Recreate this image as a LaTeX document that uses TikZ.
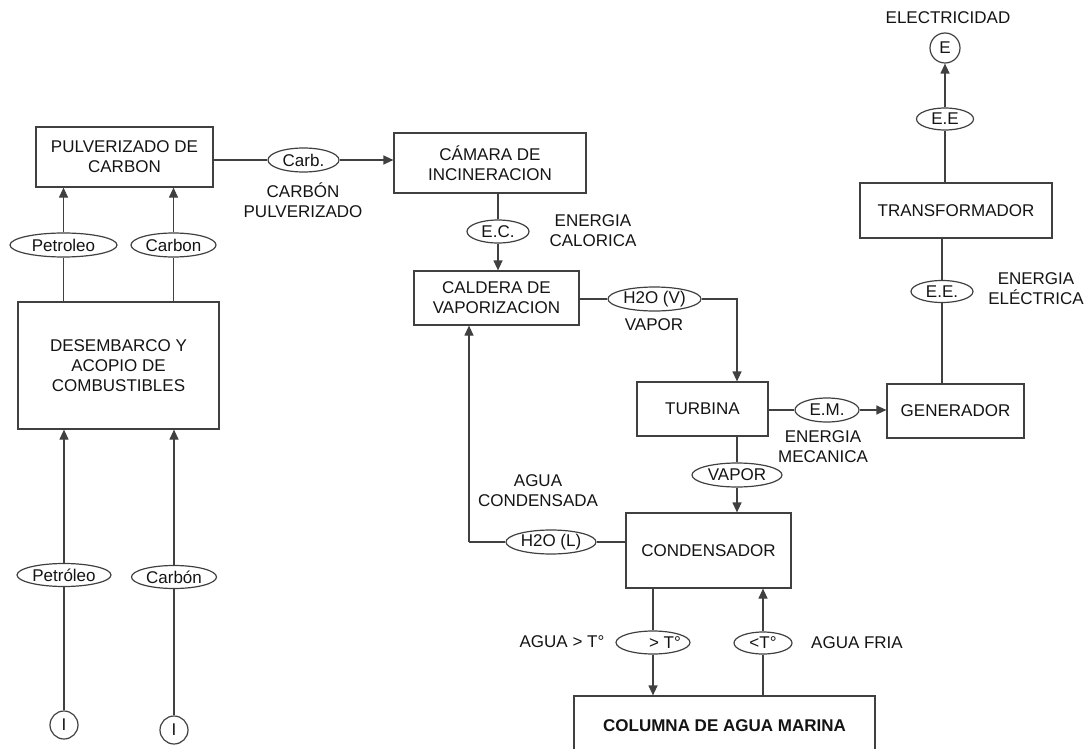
\documentclass[tikz,border=0pt]{standalone}
\usepackage{fontspec}
\setmainfont{Liberation Sans}
\usepackage{tikz}
\usetikzlibrary{arrows.meta,shapes,positioning,calc}
\usepackage{xcolor}
\definecolor{lineagris}{RGB}{64,64,64}
\definecolor{textonegro}{RGB}{20,20,20}
\newcommand{\letra}{\fontsize{17}{20}\selectfont}
\tikzstyle{arrow} = [line width=1.2pt,-{Triangle[length=10pt,width=9pt]},color=lineagris]
\tikzstyle{linea} = [line width=1.2pt,color=lineagris]
\tikzstyle{proceso} = [rectangle, draw=lineagris, line width=1.2pt, inner sep=0pt, text centered, align=center, text=textonegro, font=\letra]
\tikzstyle{flujo} = [ellipse, draw=lineagris, line width=1.2pt, inner sep=0pt, minimum height=24pt, text=textonegro, font=\letra]
\tikzstyle{terminal} = [circle, draw=lineagris, line width=1.2pt, inner sep=0pt, minimum size=28pt, text=textonegro, font=\letra]
\tikzstyle{etiqueta} = [align=center, inner sep=0pt, text=textonegro, font=\letra]

\begin{document}
\begin{tikzpicture}[x=1pt, y=-1pt]
    \useasboundingbox (0,0) rectangle (1092,749);
    \clip (0,0) rectangle (1092,749);

    % Procesos
    \node[proceso, minimum width=177pt, minimum height=60pt] (pulv) at (124.5,157) {PULVERIZADO DE\\CARBON};
    \node[proceso, minimum width=201pt, minimum height=127pt] (desemb) at (118.5,365.5) {DESEMBARCO Y\\ACOPIO DE\\COMBUSTIBLES};
    \node[proceso, minimum width=192pt, minimum height=60pt] (camara) at (490,163) {CÁMARA DE\\INCINERACION};
    \node[proceso, minimum width=165pt, minimum height=54pt] (caldera) at (496.5,298) {CALDERA DE\\VAPORIZACION};
    \node[proceso, minimum width=131pt, minimum height=54pt] (turbina) at (702.5,409) {TURBINA};
    \node[proceso, minimum width=165pt, minimum height=75pt] (condens) at (708.5,550.5) {CONDENSADOR};
    \node[proceso, minimum width=301pt, minimum height=60pt, font=\letra\bfseries] (columna) at (724.5,726) {COLUMNA DE AGUA MARINA};
    \node[proceso, minimum width=137pt, minimum height=54pt] (generador) at (955.5,411) {GENERADOR};
    \node[proceso, minimum width=192pt, minimum height=55pt] (transf) at (956,210.5) {TRANSFORMADOR};

    % Flujos
    \node[flujo, minimum width=71pt] (carb) at (303.5,160) {Carb.};
    \node[flujo, minimum width=107pt] (petroleo1) at (63.5,245) {Petroleo};
    \node[flujo, minimum width=85pt] (carbon1) at (173.5,245) {Carbon};
    \node[flujo, minimum width=94pt, minimum height=23pt] (petroleo2) at (64,575) {Petróleo};
    \node[flujo, minimum width=85pt, minimum height=23pt] (carbon2) at (174,577) {Carbón};
    \node[flujo, minimum width=62pt, minimum height=23pt] (ec) at (498,231.5) {E.C.};
    \node[flujo, minimum width=93pt] (h2ov) at (654.5,299) {H2O (V)};
    \node[flujo, minimum width=90pt] (vapor) at (737,475) {VAPOR};
    \node[flujo, minimum width=90pt] (h2ol) at (551,542) {H2O (L)};
    \node[flujo, minimum width=74pt, minimum height=23pt] (tmayor) at (653,642.5) {\makebox[0pt][l]{\hspace*{-4pt}> T°}};
    \node[flujo, minimum width=58pt, minimum height=22pt] (tmenor) at (763,643) {<T°};
    \node[flujo, minimum width=64pt] (em) at (827,410) {E.M.};
    \node[flujo, minimum width=62pt, minimum height=22pt] (ee1) at (942,291.5) {E.E.};
    \node[flujo, minimum width=57pt, minimum height=22pt] (ee2) at (945,119) {E.E};

    % Terminales
    \node[terminal] (ent1) at (64,725) {I};
    \node[terminal] (ent2) at (174,730) {I};
    \node[terminal, minimum size=30pt] (elec) at (945,48) {E};
    \coordinate (retorno) at (469,542);

    % Etiquetas
    \node[etiqueta] (lcarb) at (303,200) {CARBÓN\\PULVERIZADO};
    \node[etiqueta] (lec) at (593,231) {ENERGIA\\CALORICA};
    \node[etiqueta] (lvapor) at (654,325) {VAPOR};
    \node[etiqueta] (lagua) at (538,491) {AGUA\\CONDENSADA};
    \node[etiqueta] (lem) at (823,447) {ENERGIA\\MECANICA};
    \node[etiqueta] (lee) at (1036,289) {ENERGIA\\ELÉCTRICA};
    \node[etiqueta] (lelec) at (948,18) {ELECTRICIDAD};
    \node[etiqueta] (lmayor) at (562,642) {AGUA > T°};
    \node[etiqueta] (lfria) at (857,643) {AGUA FRIA};

    % Conectores
    \draw[linea] (pulv.east |- carb) -- (carb);
    \draw[arrow] (carb) -- (carb -| camara.west);
    \draw[linea] (petroleo1 |- desemb.north) -- (petroleo1);
    \draw[arrow] (petroleo1) -- (petroleo1 |- pulv.south);
    \draw[linea] (carbon1 |- desemb.north) -- (carbon1);
    \draw[arrow] (carbon1) -- (carbon1 |- pulv.south);
    \draw[linea] (ent1) -- (petroleo2);
    \draw[arrow] (petroleo2) -- (petroleo2 |- desemb.south);
    \draw[linea] (ent2) -- (carbon2);
    \draw[arrow] (carbon2) -- (carbon2 |- desemb.south);
    \draw[linea] (ec |- camara.south) -- (ec);
    \draw[arrow] (ec) -- (ec |- caldera.north);
    \draw[linea] (caldera.east |- h2ov) -- (h2ov);
    \draw[arrow] (h2ov) -| (vapor |- turbina.north);
    \draw[linea] (vapor |- turbina.south) -- (vapor);
    \draw[arrow] (vapor) -- (vapor |- condens.north);
    \draw[linea] (condens.west |- h2ol) -- (h2ol);
    \draw[linea] (h2ol) -- (retorno);
    \draw[arrow] (retorno) -- (retorno |- caldera.south);
    \draw[linea] (tmayor |- condens.south) -- (tmayor);
    \draw[arrow] (tmayor) -- (tmayor |- columna.north);
    \draw[linea] (tmenor |- columna.north) -- (tmenor);
    \draw[arrow] (tmenor) -- (tmenor |- condens.south);
    \draw[linea] (turbina.east |- em) -- (em);
    \draw[arrow] (em) -- (em -| generador.west);
    \draw[linea] (ee1 |- generador.north) -- (ee1);
    \draw[linea] (ee1) -- (ee1 |- transf.south);
    \draw[linea] (ee2 |- transf.north) -- (ee2);
    \draw[arrow] (ee2) -- (elec);
\end{tikzpicture}
\end{document}
